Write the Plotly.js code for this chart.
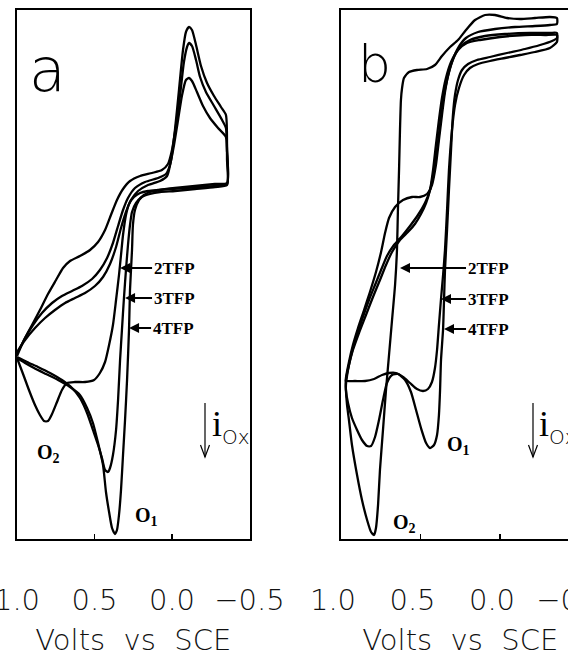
<!DOCTYPE html>
<html>
<head>
<meta charset="utf-8">
<script src="https://cdn.plot.ly/plotly-3.0.1.min.js"></script>
<style>
html,body{margin:0;padding:0;overflow:hidden;background:#fff;}
#chart{width:584px;height:657px;}
</style>
</head>
<body>
<div id="chart"></div>
<script>
// ---- Data (Volts vs SCE, current in arbitrary units; oxidation current is negative/down) ----
// Panel a
const a2V = [1.000,0.955,0.903,0.852,0.800,0.748,0.703,0.658,0.594,0.529,0.477,0.432,0.394,0.355,0.316,0.271,0.206,0.129,0.065,0.026,0.000,-0.026,-0.052,-0.077,-0.097,-0.110,-0.129,-0.155,-0.181,-0.219,-0.271,-0.323,-0.348,-0.355,-0.355,-0.277,-0.181,-0.084,0.013,0.090,0.155,0.206,0.245,0.277,0.297,0.316,0.329,0.342,0.361,0.381,0.406,0.432,0.465,0.503,0.561,0.626,0.677,0.710,0.742,0.774,0.800,0.826,0.852,0.884,0.923,0.961,1.000];
const a2I = [-16.2,-13.0,-10.0,-7.0,-3.8,-1.0,1.4,2.8,3.8,5.0,6.6,9.0,12.0,15.0,17.2,18.8,19.8,20.4,21.0,22.2,25.0,30.0,36.0,42.6,45.6,46.4,45.8,43.0,39.6,36.6,33.8,31.0,29.4,25.0,18.2,17.8,17.6,17.4,17.2,17.0,16.8,16.4,15.6,14.2,12.0,8.0,4.0,0.0,-5.0,-10.0,-14.0,-17.4,-19.6,-21.0,-21.4,-21.4,-21.6,-23.0,-25.4,-27.8,-29.2,-29.2,-28.0,-26.0,-23.0,-19.8,-16.6];

const a3V = [1.000,0.948,0.897,0.839,0.774,0.710,0.645,0.581,0.516,0.465,0.419,0.381,0.348,0.316,0.284,0.239,0.174,0.090,0.039,0.013,-0.013,-0.039,-0.065,-0.090,-0.110,-0.129,-0.161,-0.200,-0.245,-0.297,-0.348,
  -0.355,-0.355,
  -0.277,-0.148,-0.019,0.077,0.142,0.194,0.232,0.258,0.271,0.284,0.297,0.310,0.323,0.335,0.348,0.361,0.381,0.400,0.413,0.432,0.452,0.477,0.510,0.548,0.594,0.645,0.710,0.787,0.865,0.935,1.000];
const a3I = [-15.8,-12.6,-10.0,-7.6,-5.6,-4.2,-3.2,-2.2,-0.8,1.0,3.4,6.4,9.8,13.0,15.4,17.4,18.6,19.4,20.2,22.0,26.0,31.0,36.0,39.0,39.4,38.8,36.6,33.8,31.4,29.4,27.6,
  23.0,18.0,
  17.6,17.2,16.8,16.6,16.2,15.6,14.4,12.6,10.0,6.0,1.0,-4.6,-11.0,-17.0,-25.0,-31.0,-36.0,-38.6,-39.4,-39.0,-36.6,-34.0,-31.0,-27.6,-24.6,-22.6,-21.0,-19.6,-18.4,-17.4,-16.4];

const a4V = [1.000,0.948,0.884,0.819,0.755,0.690,0.626,0.561,0.497,0.445,0.400,0.361,0.329,0.297,0.265,0.219,0.155,0.077,0.032,0.006,-0.019,-0.045,-0.071,-0.090,-0.110,-0.129,-0.155,-0.187,-0.226,-0.271,-0.316,-0.348,
  -0.355,-0.355,
  -0.277,-0.148,-0.019,0.077,0.142,0.181,0.213,0.239,0.252,0.258,0.271,0.277,0.290,0.303,0.316,0.329,0.342,0.355,0.368,0.387,0.406,0.426,0.445,0.477,0.510,0.548,0.594,0.658,0.735,0.813,0.890,0.948,1.000];
const a4I = [-15.4,-13.0,-10.6,-8.6,-7.0,-5.6,-4.6,-3.6,-2.2,-0.4,2.2,5.6,9.4,12.6,15.0,16.8,18.0,18.8,19.8,23.0,29.0,37.0,45.0,48.6,49.6,49.0,46.0,41.8,38.4,35.8,33.6,32.0,
  25.0,18.4,
  18.2,17.8,17.4,17.0,16.6,16.0,15.0,13.0,10.0,5.0,-3.0,-10.6,-21.0,-29.0,-36.0,-43.0,-48.0,-51.0,-51.8,-50.6,-47.4,-43.4,-38.0,-33.6,-29.6,-26.6,-24.0,-22.4,-21.0,-19.8,-18.6,-17.6,-16.6];

// Panel b
const b2V = [0.969,0.956,0.931,0.899,0.862,0.824,0.786,0.748,0.711,0.667,0.616,0.566,0.516,0.472,0.440,0.415,0.396,0.377,0.358,0.333,0.302,0.264,0.214,0.138,0.031,-0.094,-0.220,-0.314,-0.358,-0.358,
  -0.314,-0.220,-0.126,-0.044,0.031,0.094,0.157,0.214,0.264,0.314,0.365,0.409,0.459,0.522,0.572,0.604,0.616,0.623,0.629,0.635,0.642,0.648,0.660,0.679,0.698,0.717,0.736,0.755,0.767,0.780,0.792,0.811,0.836,0.868,0.899,0.931,0.950,0.962,0.969,0.969];
const b2I = [-22.0,-19.0,-15.4,-12.0,-8.4,-5.0,-2.0,1.0,3.8,6.0,7.8,9.8,12.0,14.4,17.0,21.0,25.0,30.0,35.0,39.0,42.6,45.4,47.4,48.6,49.2,49.6,49.8,50.0,50.2,51.4,
  51.6,51.4,51.2,51.4,52.0,52.0,51.0,49.0,47.0,45.6,43.8,42.0,41.2,41.0,40.6,39.4,37.4,35.0,29.0,21.0,13.0,5.0,-2.0,-9.0,-16.0,-23.0,-31.0,-39.0,-46.0,-50.6,-52.0,-51.4,-49.0,-45.0,-40.0,-34.0,-29.0,-26.0,-23.0,-22.0];

const b3V = [0.969,0.950,0.925,0.887,0.843,0.799,0.755,0.717,0.679,0.629,0.579,0.535,0.497,0.465,0.440,0.421,0.403,0.384,0.365,0.340,0.308,0.264,0.208,0.126,0.000,-0.157,-0.283,-0.358,-0.358,
  -0.314,-0.220,-0.126,-0.031,0.063,0.138,0.189,0.226,0.258,0.283,0.302,0.321,0.333,0.346,0.358,0.371,0.384,0.396,0.409,0.428,0.453,0.484,0.522,0.566,0.610,0.654,0.698,0.742,0.792,0.849,0.912,0.969,0.969];
const b3I = [-21.0,-18.0,-15.0,-11.6,-8.0,-4.4,-1.0,2.0,4.6,7.0,8.6,10.2,12.2,14.4,17.0,21.0,26.0,31.0,35.4,39.4,42.6,45.0,46.4,47.0,47.6,48.0,48.0,48.0,46.6,
  45.4,44.6,44.0,43.4,42.8,42.2,41.4,40.0,37.4,34.0,29.0,21.0,13.0,5.0,0.0,-4.8,-10.0,-15.0,-18.6,-21.4,-22.8,-23.2,-22.8,-21.6,-20.4,-19.6,-19.6,-20.0,-20.8,-21.2,-21.2,-21.2,-21.0];

const b4V = [0.969,0.950,0.925,0.893,0.855,0.818,0.780,0.748,0.723,0.698,0.660,0.610,0.553,0.503,0.459,0.428,0.403,0.384,0.365,0.346,0.321,0.289,0.245,0.189,0.094,-0.031,-0.189,-0.314,-0.358,-0.358,
  -0.327,-0.252,-0.157,-0.044,0.063,0.145,0.201,0.239,0.264,0.283,0.296,0.308,0.321,0.333,0.346,0.352,0.358,0.371,0.377,0.384,0.396,0.415,0.440,0.465,0.497,0.528,0.560,0.597,0.642,0.679,0.711,0.736,0.761,0.786,0.811,0.836,0.868,0.899,0.931,0.956,0.969,0.969];
const b4I = [-20.6,-17.4,-14.0,-10.6,-7.0,-3.4,0.6,4.6,8.4,11.4,13.6,15.0,15.6,15.6,16.2,18.0,22.0,27.0,32.0,36.6,40.6,43.6,45.8,47.0,47.8,48.2,48.4,48.4,48.4,47.4,
  46.8,46.0,45.2,44.4,43.6,43.0,42.2,41.0,39.0,36.0,32.0,25.0,17.0,9.0,1.0,-5.0,-10.8,-17.0,-23.0,-28.0,-32.0,-34.0,-34.6,-33.6,-30.6,-27.0,-23.4,-21.0,-19.8,-20.0,-21.6,-25.0,-29.0,-32.4,-34.2,-34.2,-33.0,-31.0,-28.6,-25.6,-23.0,-20.6];

const tickVals = [1.0, 0.5, 0.0, -0.5];
const tickText = ['1.0', '0.5', '0.0', '\u22120.5'];
const seriesNames = ['2TFP', '3TFP', '4TFP'];
const axisTitle = 'Volts\u00a0 vs\u00a0 SCE';

// ---- Layout helpers (pixel -> paper) ----
const W = 584, H = 657;
const px = x => x / W;
const py = y => 1 - y / H;

const lineStyle = {color: '#000', width: 2.3, shape: 'spline', smoothing: 0.6};
function tr(xs, ys, name, xa, ya) {
  return {x: xs, y: ys, name: name, mode: 'lines', line: lineStyle, xaxis: xa, yaxis: ya,
          showlegend: false, hoverinfo: 'skip'};
}
const data = [
  tr(a2V, a2I, seriesNames[0], 'x', 'y'),
  tr(a3V, a3I, seriesNames[1], 'x', 'y'),
  tr(a4V, a4I, seriesNames[2], 'x', 'y'),
  tr(b2V, b2I, seriesNames[0], 'x2', 'y2'),
  tr(b3V, b3I, seriesNames[1], 'x2', 'y2'),
  tr(b4V, b4I, seriesNames[2], 'x2', 'y2')
];

const tickFont = {family: 'DejaVu Sans', size: 29, weight: 200, color: '#111'};
const titleFont = {family: 'DejaVu Sans', size: 29, weight: 200, color: '#111'};
function xax(domain, shift) {
  return {
    domain: domain, range: [1.0, -0.5], showgrid: false, zeroline: false,
    showline: true, mirror: true, linecolor: '#000', linewidth: 2,
    ticks: 'inside', ticklen: 5, tickwidth: 1.5, tickcolor: '#000',
    tickmode: 'array', tickvals: tickVals, ticktext: tickText,
    tickfont: tickFont, ticklabelstandoff: 34, ticklabelshift: shift, ticklabeloverflow: 'allow',
    title: {text: axisTitle, font: titleFont, standoff: 16},
    automargin: false, fixedrange: true
  };
}
function yax(anchor) {
  return {
    domain: [1 - 539 / H, 1 - 10 / H], range: [-52.8, 53], anchor: anchor,
    showgrid: false, zeroline: false, showline: true, mirror: true,
    linecolor: '#000', linewidth: 2, ticks: '', showticklabels: false,
    automargin: false, fixedrange: true
  };
}

const serifBold = {family: 'Liberation Serif', size: 17, weight: 'bold', color: '#000'};
function arrowLabel(text, xa, ya, xv, yv, ax) {
  return {text: text, xref: xa, yref: ya, x: xv, y: yv, showarrow: true, ax: ax, ay: 0,
          xanchor: 'left', yanchor: 'middle', arrowhead: 2, arrowsize: 1, arrowwidth: 2,
          arrowcolor: '#000', font: serifBold, standoff: 0};
}
function paperText(text, x, y, font) {
  return {text: text, xref: 'paper', yref: 'paper', x: px(x), y: py(y), showarrow: false,
          xanchor: 'center', yanchor: 'middle', font: font};
}
const letterFont = {family: 'DejaVu Sans', size: 60, weight: 200, color: '#000'};
const letterFontB = {family: 'DejaVu Sans', size: 52, weight: 200, color: '#000'};
const oFont = {family: 'Liberation Serif', size: 20, weight: 'bold', color: '#000'};
const iFont = {family: 'Liberation Serif', size: 36, color: '#000'};
const iOxText = 'i<sub><span style="font-family:DejaVu Sans;font-size:20px;font-weight:200">Ox</span></sub>';

const annotations = [
  paperText('a', 47, 70, letterFont),
  paperText('b', 374, 64, letterFontB),
  arrowLabel(seriesNames[0], 'x', 'y', 0.335, 1.4, 32),
  arrowLabel(seriesNames[1], 'x', 'y', 0.303, -4.6, 27),
  arrowLabel(seriesNames[2], 'x', 'y', 0.277, -10.6, 22),
  arrowLabel(seriesNames[0], 'x2', 'y2', 0.629, 1.4, 66),
  arrowLabel(seriesNames[1], 'x2', 'y2', 0.371, -4.8, 25),
  arrowLabel(seriesNames[2], 'x2', 'y2', 0.352, -10.8, 22),
  paperText('O<sub>1</sub>', 146, 516, oFont),
  paperText('O<sub>2</sub>', 48, 453, oFont),
  paperText('O<sub>1</sub>', 458, 445, oFont),
  paperText('O<sub>2</sub>', 404, 523, oFont),
  Object.assign(paperText(iOxText, 210, 426, iFont), {xanchor: 'left'}),
  Object.assign(paperText(iOxText, 537, 426, iFont), {xanchor: 'left'})
];

function downArrow(x) {
  return [
    {type: 'line', xref: 'paper', yref: 'paper', x0: px(x), x1: px(x), y0: py(403), y1: py(457),
     line: {color: '#000', width: 1.2}},
    {type: 'path', xref: 'paper', yref: 'paper',
     path: `M ${px(x - 4.5)} ${py(445)} L ${px(x)} ${py(457)} L ${px(x + 4.5)} ${py(445)}`,
     line: {color: '#000', width: 1.2}}
  ];
}

const layout = {
  width: W, height: H, margin: {l: 0, r: 0, t: 0, b: 0},
  paper_bgcolor: '#fff', plot_bgcolor: '#fff', showlegend: false,
  xaxis: Object.assign(xax([17 / W, 249.5 / W], 0), {anchor: 'y'}),
  yaxis: yax('x'),
  xaxis2: Object.assign(xax([341 / W, 579.5 / W], 8), {anchor: 'y2'}),
  yaxis2: yax('x2'),
  annotations: annotations,
  shapes: downArrow(205).concat(downArrow(533))
};

Plotly.newPlot('chart', data, layout, {displayModeBar: false, staticPlot: true});
</script>
</body>
</html>
